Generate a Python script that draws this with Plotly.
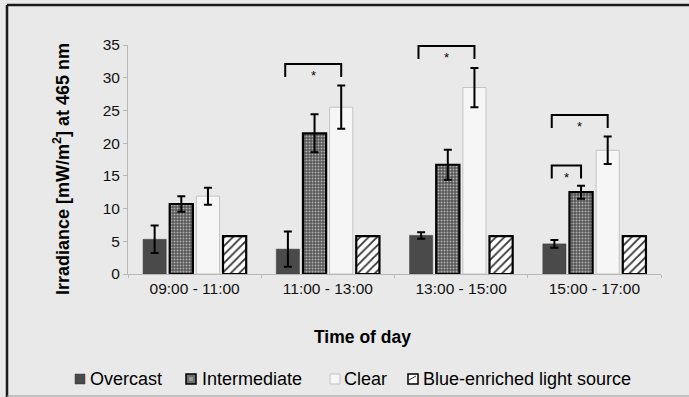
import plotly.graph_objects as go

categories = ["09:00 - 11:00", "11:00 - 13:00", "13:00 - 15:00", "15:00 - 17:00"]
overcast = [5.3, 3.8, 5.9, 4.6]
overcast_err = [2.1, 2.7, 0.5, 0.6]
intermediate = [10.7, 21.5, 16.7, 12.5]
intermediate_err = [1.2, 2.9, 2.3, 1.0]
clear = [11.9, 25.5, 28.5, 18.9]
clear_err = [1.3, 3.3, 3.0, 2.1]
blue = [5.8, 5.8, 5.8, 5.8]

series_names = ["Overcast", "Intermediate", "Clear", "Blue-enriched light source"]

# significance brackets: group index, from series, to series, bracket height
sig_group = [1, 2, 3, 3]
sig_from = ["Overcast", "Overcast", "Overcast", "Overcast"]
sig_to = ["Clear", "Clear", "Clear", "Intermediate"]
sig_height = [32.1, 34.85, 24.3, 16.6]

BARGAP = 0.2
BARGROUPGAP = 0.13

# pixel geometry of the plot area
L, R, T, B = 128, 28, 45, 123
W, H = 689, 397
PW, PH = W - L - R, H - T - B
def px(xp):
    return (xp - L) / PW
def py(yp):
    return (H - B - yp) / PH

err_style = dict(type="data", thickness=2, width=4, color="black")

styles = [
    dict(color="#4a4a4a", line=dict(color="#3a3a3a", width=0.5)),
    dict(color="#6e6e6e", line=dict(color="black", width=2.2),
         pattern=dict(shape=".", fgcolor="#b0b0b0", bgcolor="#555555",
                      size=3, solidity=0.35, fillmode="replace")),
    dict(color="#f6f6f6", line=dict(color="#c4c4c4", width=1)),
    dict(color="white", line=dict(color="black", width=2.2),
         pattern=dict(shape="/", fgcolor="#333333", bgcolor="white",
                      size=6, solidity=0.3, fillmode="replace")),
]

fig = go.Figure()
fig.add_trace(go.Bar(name=series_names[0], x=categories, y=overcast,
                     error_y=dict(array=overcast_err, **err_style), marker=styles[0]))
fig.add_trace(go.Bar(name=series_names[1], x=categories, y=intermediate,
                     error_y=dict(array=intermediate_err, **err_style), marker=styles[1]))
fig.add_trace(go.Bar(name=series_names[2], x=categories, y=clear,
                     error_y=dict(array=clear_err, **err_style), marker=styles[2]))
fig.add_trace(go.Bar(name=series_names[3], x=categories, y=blue, marker=styles[3]))

# bracket positions derived from grouped-bar geometry
slot = (1 - BARGAP) / len(series_names)
def bar_center(gi, name):
    k = series_names.index(name)
    return gi + (k - (len(series_names) - 1) / 2) * slot

leg = 2.0
shapes = []
annotations = []
for gi, a, b, h in zip(sig_group, sig_from, sig_to, sig_height):
    x0 = bar_center(gi, a) - 0.02
    x1 = bar_center(gi, b)
    shapes.append(dict(type="path", xref="x", yref="y",
                       path=f"M {x0},{h-leg} L {x0},{h} L {x1},{h} L {x1},{h-leg}",
                       line=dict(color="black", width=2)))
    annotations.append(dict(x=(x0 + x1) / 2, y=h - 0.35, xref="x", yref="y",
                            text="*", showarrow=False, yanchor="top",
                            font=dict(size=13, color="black", family="Liberation Sans, Arial")))

# outer frame: top and left dark, bottom faint
shapes.append(dict(type="line", xref="paper", yref="paper",
                   x0=px(7), x1=px(689), y0=py(5), y1=py(5),
                   line=dict(color="#1a1a1a", width=2.5)))
shapes.append(dict(type="line", xref="paper", yref="paper",
                   x0=px(7), x1=px(7), y0=py(5), y1=py(397),
                   line=dict(color="#1a1a1a", width=2.5)))
shapes.append(dict(type="line", xref="paper", yref="paper",
                   x0=px(7), x1=px(689), y0=py(396), y1=py(396),
                   line=dict(color="#9a9a9a", width=1)))

# manual legend (symbol squares + labels)
leg_sq_x = [75, 186, 330, 408]
leg_txt_x = [88, 200, 342, 421]
leg_y = 379
for i, name in enumerate(series_names):
    st = styles[i]
    sq = dict(type="rect", xref="paper", yref="paper",
              x0=px(leg_sq_x[i]), x1=px(leg_sq_x[i] + 10),
              y0=py(leg_y + 5), y1=py(leg_y - 5),
              fillcolor=st["color"],
              line=dict(color=st["line"]["color"], width=min(st["line"]["width"], 1.5)))
    shapes.append(sq)
    annotations.append(dict(text=name, xref="paper", yref="paper",
                            x=px(leg_txt_x[i]), y=py(leg_y), showarrow=False,
                            xanchor="left", yanchor="middle",
                            font=dict(size=18, color="black")))
# hatch/dots inside legend squares
shapes.append(dict(type="path", xref="paper", yref="paper",
                   path=f"M {px(409)},{py(380)} L {px(416)},{py(376)}",
                   line=dict(color="#333", width=1)))
shapes.append(dict(type="rect", xref="paper", yref="paper",
                   x0=px(189), x1=px(193), y0=py(381), y1=py(377),
                   fillcolor="#999", line=dict(width=0)))

annotations.append(dict(text="<b>Time of day</b>", xref="paper", yref="paper",
                        x=px(362), y=py(337), showarrow=False,
                        xanchor="center", yanchor="middle",
                        font=dict(size=17.5, color="black")))
annotations.append(dict(text="<b>Irradiance [mW/m<sup>2</sup>] at 465 nm</b>", xref="paper", yref="paper",
                        x=px(61), y=py(169), showarrow=False,
                        xanchor="center", yanchor="middle", textangle=-90,
                        font=dict(size=18, color="black")))

fig.update_layout(
    width=W, height=H,
    margin=dict(l=L, r=R, t=T, b=B),
    paper_bgcolor="#e9e9e9", plot_bgcolor="#e9e9e9",
    barmode="group", bargap=BARGAP, bargroupgap=BARGROUPGAP,
    font=dict(family="Liberation Sans, Arial, sans-serif", color="#111111"),
    showlegend=False,
    shapes=shapes, annotations=annotations,
)
fig.update_xaxes(showgrid=False, showline=True, linecolor="#b8b8b8", linewidth=1,
                 ticks="outside", ticklen=3, tickcolor="#b8b8b8", tickson="boundaries",
                 tickfont=dict(size=15.5, color="#111111"))
fig.update_yaxes(range=[0, 35], dtick=5, showgrid=False, showline=True,
                 linecolor="#b8b8b8", linewidth=1, ticks="outside", ticklen=4,
                 tickcolor="#b8b8b8", tickfont=dict(size=15.5, color="#111111"),
                 zeroline=False)

fig.write_html("out.html", config={"displayModeBar": False},
               post_script=("document.documentElement.style.overflow='hidden';"
                            "document.documentElement.style.background='#e9e9e9';"
                            "document.body.style.margin='0';"
                            "document.body.style.background='#e9e9e9';"
                            "document.body.style.overflow='hidden';"))
